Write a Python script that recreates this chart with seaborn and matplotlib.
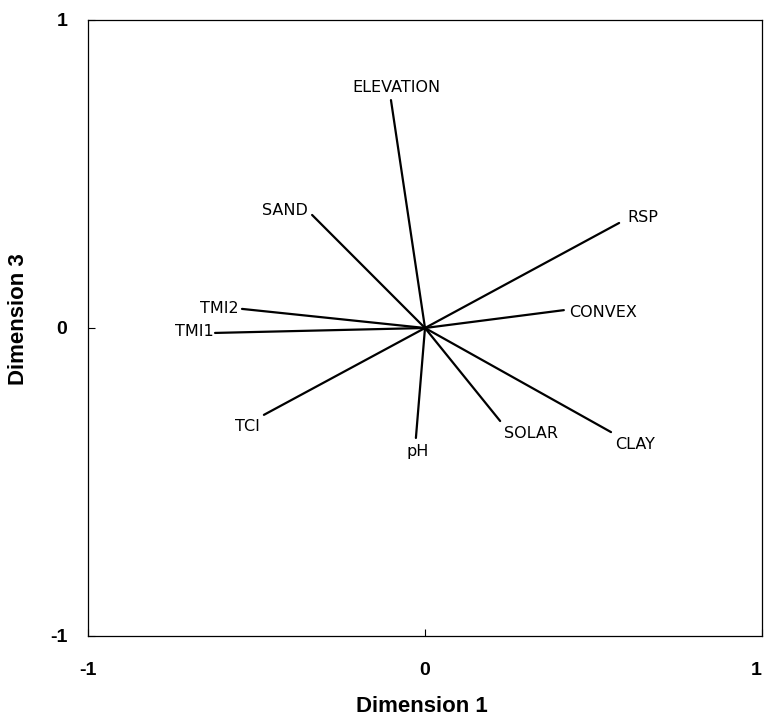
import matplotlib
matplotlib.use("Agg")
import matplotlib.pyplot as plt
import seaborn as sns
import pandas as pd

# ---- data ----
variables = ["ELEVATION", "SAND", "TMI2", "TMI1", "TCI", "pH", "SOLAR", "CLAY", "CONVEX", "RSP"]
dim1 = [-0.101, -0.335, -0.543, -0.623, -0.478, -0.027, 0.223, 0.552, 0.412, 0.576]
dim3 = [0.740, 0.367, 0.062, -0.016, -0.282, -0.357, -0.302, -0.338, 0.058, 0.341]
tick_values = [-1, 0, 1]
tick_labels = ["-1", "0", "1"]

# label placement (pixel offsets from vector tip, alignment)
label_style = {
    "ELEVATION": (5, 13, "center"),
    "SAND": (-4, 4, "right"),
    "TMI2": (-3, 0, "right"),
    "TMI1": (-1, 1, "right"),
    "TCI": (-16, -12, "center"),
    "pH": (2, -14, "center"),
    "SOLAR": (4, -12, "left"),
    "CLAY": (4, -12, "left"),
    "CONVEX": (5, -2, "left"),
    "RSP": (8, 5, "left"),
}

rows = []
for v, x, y in zip(variables, dim1, dim3):
    rows.append({"var": v, "x": 0.0, "y": 0.0})
    rows.append({"var": v, "x": x, "y": y})
df = pd.DataFrame(rows)

sns.set_theme(style="white")
plt.rcParams["font.family"] = ["Liberation Sans", "DejaVu Sans"]

fig = plt.figure(figsize=(7.64, 7.23), dpi=100)
ax = fig.add_axes([88 / 764, 1 - 636 / 723, 674 / 764, 616 / 723])

sns.lineplot(data=df, x="x", y="y", units="var", estimator=None, sort=False,
             color="black", linewidth=1.6, ax=ax, legend=False)

for v, x, y in zip(variables, dim1, dim3):
    dx, dy, ha = label_style[v]
    ax.annotate(v, xy=(x, y), xytext=(dx, dy), textcoords="offset pixels",
                ha=ha, va="center", fontsize=11.5, family="DejaVu Sans",
                color="black")

ax.set_xlim(-1, 1)
ax.set_ylim(-1, 1)
ax.set_xticks(tick_values)
ax.set_xticklabels(tick_labels, fontweight="bold")
ax.set_yticks(tick_values)
ax.set_yticklabels(tick_labels, fontweight="bold")
ax.tick_params(axis="both", direction="in", length=5, width=0.8, color="black",
               labelsize=14, labelcolor="black")
ax.tick_params(axis="x", pad=19, bottom=True)
ax.tick_params(axis="y", pad=15, left=True)
ax.get_xticklabels()[-1].set_horizontalalignment("right")

for s in ax.spines.values():
    s.set_visible(True)
    s.set_color("black")
    s.set_linewidth(0.9)

ax.set_xlabel("Dimension 1", fontsize=16, fontweight="bold", color="black")
ax.set_ylabel("Dimension 3", fontsize=16, fontweight="bold", color="black")
ax.xaxis.set_label_coords(0.496, -0.098)
ax.yaxis.set_label_coords(-0.0875, 0.515)

fig.savefig("out.png", dpi=100, facecolor="white")
